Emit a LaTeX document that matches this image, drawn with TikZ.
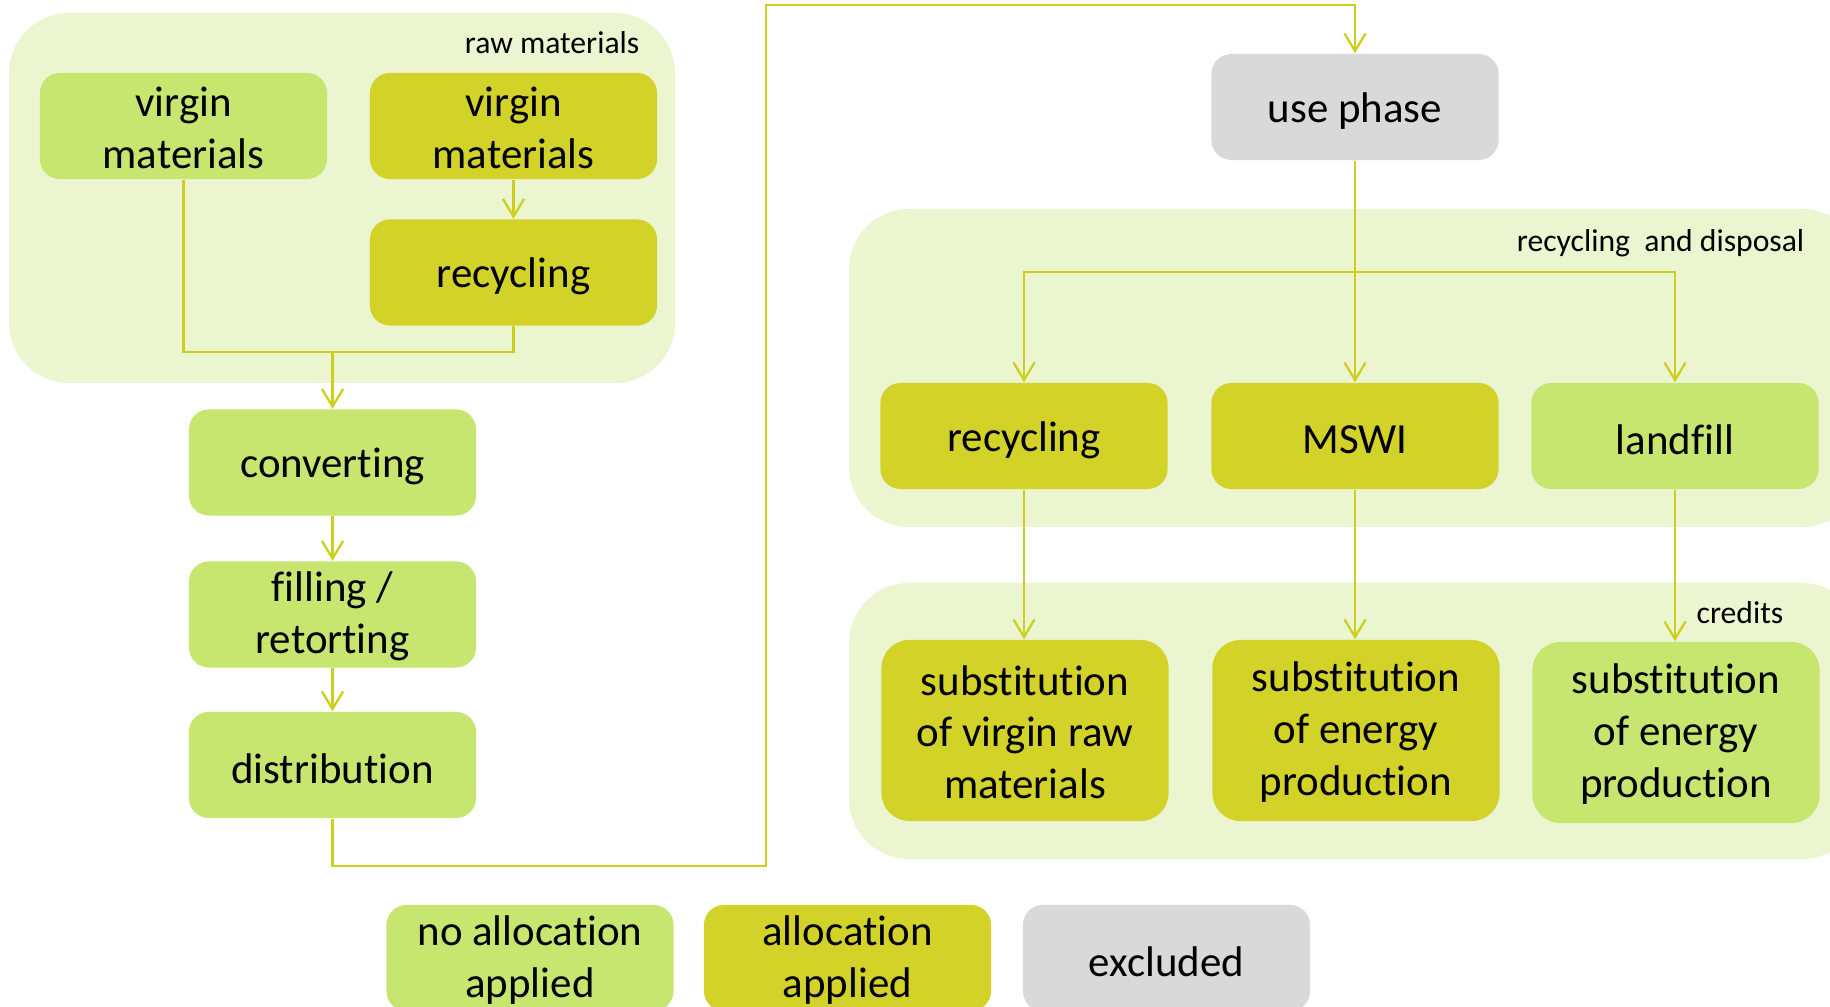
\documentclass[tikz,border=0pt]{standalone}
\usepackage{fontspec}
\setmainfont[Ligatures={NoCommon,NoContextual}]{Carlito}
\usetikzlibrary{arrows.meta}
\definecolor{contbg}{RGB}{235,246,209}
\definecolor{lgreen}{RGB}{198,230,111}
\definecolor{olive}{RGB}{211,210,41}
\definecolor{greyx}{RGB}{217,217,217}
\definecolor{linec}{RGB}{206,206,30}
\newcommand{\mainfs}{\fontsize{12.2pt}{14.7pt}\selectfont}
\newcommand{\smallfs}{\fontsize{9pt}{11pt}\selectfont}
\begin{document}
\begin{tikzpicture}[x=0.01cm,y=-0.01cm,
  box/.style={rounded corners=0.2cm, minimum width=2.87cm, minimum height=1.06cm, inner sep=0pt},
  tallbox/.style={box, rounded corners=0.28cm, minimum height=1.81cm},
  btext/.style={font=\mainfs, align=center, inner sep=0pt, text=black},
  one/.style={btext, yshift=-1.1pt},
  multi/.style={btext, yshift=-0.5pt},
  lg/.style={fill=lgreen},
  ol/.style={fill=olive},
  gr/.style={fill=greyx},
  cont/.style={fill=contbg, rounded corners=0.6cm},
  lbl/.style={font=\smallfs, inner sep=0pt, anchor=east, text=black},
  conn/.style={draw=linec, line width=0.65pt},
  >={Straight Barb[length=5pt,width=6pt]}]
\useasboundingbox (0,0) rectangle (1830,1007);
\fill[white] (0,0) rectangle (1830,1007);
\clip (0,0) rectangle (1830,1007);
% containers
\path[cont] (9,13) rectangle (675,383);
\path[cont] (849,209) rectangle (1862,527);
\path[cont] (849,583) rectangle (1862,859);
% labels
\node[lbl] (lraw) at (640,43) {raw materials};
\node[lbl] (lrd) at (1805,243) {recycling\ \ and disposal};
\node[lbl] (lcr) at (1784,613) {credits};
% left column
\node[box,lg] (vm1) at (183.5,126) {};
\node[box,ol] (vm2) at (513.5,126) {};
\node[box,ol] (rec1) at (513.5,272.5) {};
\node[box,lg] (conv) at (332.5,462.5) {};
\node[box,lg] (fill) at (332.5,614.5) {};
\node[box,lg] (dist) at (332.5,765) {};
% right part
\node[box,gr] (use) at (1355,107) {};
\node[box,ol] (rec2) at (1024,436) {};
\node[box,ol] (mswi) at (1355,436) {};
\node[box,lg] (lf) at (1675,436) {};
\node[tallbox,ol] (sub1) at (1025,730.5) {};
\node[tallbox,ol] (sub2) at (1356,730.5) {};
\node[tallbox,lg] (sub3) at (1676,732.5) {};
% legend
\node[box,lg] (leg1) at (530,958) {};
\node[box,ol] (leg2) at (847.5,958) {};
\node[box,gr] (leg3) at (1166.5,958) {};
% texts
\node[multi] (vm1t) at (vm1) {virgin\\materials};
\node[multi] (vm2t) at (vm2) {virgin\\materials};
\node[one] (rec1t) at (rec1) {recycling};
\node[one] (convt) at (conv) {converting};
\node[multi] (fillt) at (fill) {filling /\\retorting};
\node[one] (distt) at (dist) {distribution};
\node[one] (uset) at (use) {use phase};
\node[one] (rec2t) at (rec2) {recycling};
\node[one] (mswit) at (mswi) {MSWI};
\node[one] (lft) at (lf) {landfill};
\node[multi] (sub1t) at (sub1) {substitution\\of virgin raw\\materials};
\node[multi] (sub2t) at (sub2) {substitution\\of energy\\production};
\node[multi] (sub3t) at (sub3) {substitution\\of energy\\production};
\node[multi] (leg1t) at (leg1) {no allocation\\applied};
\node[multi] (leg2t) at (leg2) {allocation\\applied};
\node[one] (leg3t) at (leg3) {excluded};
% coordinates
\coordinate (j1) at (332.5,352);
\coordinate (d1) at (332.5,866);
\coordinate (d2) at (766,866);
\coordinate (d3) at (766,5);
\coordinate (d4) at (1355,5);
\coordinate (b) at (1355,272);
% connectors
\draw[conn] (vm1.south) |- (j1);
\draw[conn] (rec1.south) |- (j1);
\draw[conn,->] (j1) -- (conv.north);
\draw[conn,->] (vm2.south) -- (rec1.north);
\draw[conn,->] (conv.south) -- (fill.north);
\draw[conn,->] (fill.south) -- (dist.north);
\draw[conn,->] (dist.south) -- (d1) -- (d2) -- (d3) -- (d4) -- (use.north);
\draw[conn] (use.south) -- (b);
\draw[conn,->] (b) -| (rec2.north);
\draw[conn,->] (b) -- (mswi.north);
\draw[conn,->] (b) -| (lf.north);
\draw[conn,->] (rec2.south) -- (rec2.south |- sub1.north);
\draw[conn,->] (mswi.south) -- (mswi.south |- sub2.north);
\draw[conn,->] (lf.south) -- (lf.south |- sub3.north);
\end{tikzpicture}
\end{document}
